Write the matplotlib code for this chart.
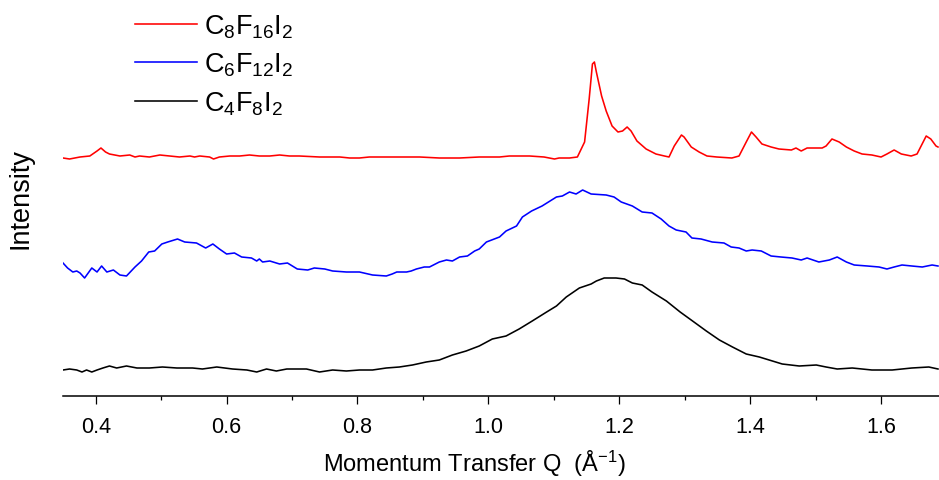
import numpy as np
import matplotlib
matplotlib.use("Agg")
from matplotlib import pyplot as plt
from matplotlib.ticker import MultipleLocator

plt.rcParams["font.family"] = ["Liberation Sans", "DejaVu Sans"]
plt.rcParams["mathtext.fontset"] = "custom"
plt.rcParams["mathtext.rm"] = "Liberation Sans"
plt.rcParams["mathtext.it"] = "Liberation Sans"
plt.rcParams["mathtext.default"] = "regular"

# C8F16I2 (red)
q_c8 = [0.350, 0.360, 0.376, 0.391, 0.402, 0.408, 0.415, 0.421, 0.429, 0.437,
        0.452, 0.460, 0.467, 0.482, 0.498, 0.513, 0.528, 0.544, 0.551, 0.559,
        0.574, 0.580, 0.589, 0.605, 0.620, 0.635, 0.650, 0.666, 0.681, 0.696,
        0.711, 0.742, 0.773, 0.788, 0.803, 0.818, 0.834, 0.864, 0.895, 0.925,
        0.956, 0.986, 1.017, 1.032, 1.047, 1.063, 1.085, 1.101, 1.108, 1.124,
        1.136, 1.147, 1.154, 1.159, 1.162, 1.165, 1.173, 1.180, 1.189, 1.198,
        1.205, 1.212, 1.218, 1.227, 1.241, 1.256, 1.269, 1.276, 1.284, 1.295,
        1.299, 1.310, 1.322, 1.334, 1.349, 1.372, 1.383, 1.394, 1.402, 1.409,
        1.418, 1.432, 1.444, 1.463, 1.470, 1.478, 1.487, 1.510, 1.516, 1.525,
        1.536, 1.547, 1.559, 1.571, 1.586, 1.600, 1.609, 1.620, 1.631, 1.646,
        1.655, 1.669, 1.676, 1.684, 1.687]
i_c8 = [238, 237, 239, 240, 245, 248, 244, 242, 241, 240,
        241, 239, 240, 239, 241, 240, 239, 240, 239, 240,
        239, 237, 239, 240, 240, 241, 240, 240, 241, 240,
        240, 239, 239, 238, 238, 239, 239, 239, 239, 238,
        238, 239, 239, 240, 240, 240, 239, 237, 238, 238,
        239, 254, 297, 332, 334, 324, 300, 285, 270, 264,
        265, 269, 265, 255, 247, 242, 240, 239, 250, 261,
        259, 249, 244, 240, 239, 238, 240, 254, 264, 259,
        252, 249, 247, 246, 248, 245, 248, 248, 250, 257,
        254, 249, 245, 242, 241, 239, 242, 246, 242, 240,
        242, 260, 257, 250, 249]

# C6F12I2 (blue)
q_c6 = [0.350, 0.357, 0.365, 0.371, 0.376, 0.383, 0.394, 0.402, 0.409, 0.417,
        0.427, 0.437, 0.447, 0.460, 0.470, 0.481, 0.490, 0.501, 0.510, 0.525,
        0.536, 0.554, 0.568, 0.579, 0.589, 0.600, 0.612, 0.623, 0.638, 0.646,
        0.650, 0.655, 0.666, 0.681, 0.693, 0.708, 0.724, 0.734, 0.750, 0.762,
        0.783, 0.803, 0.823, 0.844, 0.853, 0.860, 0.875, 0.882, 0.890, 0.902,
        0.910, 0.925, 0.936, 0.945, 0.956, 0.968, 0.979, 0.986,
        0.997, 1.017, 1.027, 1.043, 1.052, 1.066, 1.082, 1.104, 1.113, 1.124,
        1.134, 1.144, 1.157, 1.180, 1.192, 1.203, 1.220, 1.235, 1.250, 1.264,
        1.276, 1.287, 1.302, 1.311, 1.325, 1.342, 1.360, 1.371, 1.383, 1.394,
        1.403, 1.417, 1.432, 1.447, 1.464, 1.478, 1.487, 1.505, 1.521, 1.533,
        1.547, 1.559, 1.579, 1.597, 1.609, 1.620, 1.632, 1.647, 1.663, 1.678,
        1.687]
i_c6 = [133, 128, 124, 125, 123, 118, 128, 124, 130, 124,
        126, 121, 120, 129, 135, 144, 145, 152, 154, 157,
        154, 153, 148, 152, 147, 142, 143, 139, 138, 135,
        137, 134, 135, 132, 133, 127, 126, 128, 127, 125,
        124, 124, 121, 120, 122, 124, 124, 125, 127, 129,
        129, 134, 136, 135, 139, 140, 145, 147,
        154, 159, 165, 170, 179, 185, 190, 199, 200, 204,
        202, 206, 202, 201, 199, 194, 190, 184, 183, 177,
        170, 166, 164, 158, 157, 154, 153, 149, 148, 145,
        146, 145, 140, 139, 138, 136, 138, 134, 136, 139,
        134, 131, 130, 129, 127, 129, 131, 130, 129, 131,
        130]

# C4F8I2 (black)
q_c4 = [0.350, 0.360, 0.371, 0.379, 0.386, 0.394, 0.402, 0.411, 0.421, 0.432,
        0.447, 0.463, 0.482, 0.502, 0.524, 0.548, 0.563, 0.585, 0.609, 0.631,
        0.646, 0.661, 0.676, 0.692, 0.722, 0.742, 0.762, 0.783, 0.803, 0.823,
        0.844, 0.864, 0.884, 0.905, 0.925, 0.945, 0.966, 0.986,
        1.006, 1.027, 1.047, 1.067, 1.089, 1.104, 1.119, 1.139, 1.157, 1.165,
        1.177, 1.195, 1.208, 1.220, 1.235, 1.250, 1.272, 1.293, 1.312, 1.333,
        1.353, 1.373, 1.394, 1.414, 1.434, 1.449, 1.475, 1.501, 1.516, 1.533,
        1.556, 1.586, 1.617, 1.647, 1.673, 1.687]
i_c4 = [26, 27, 26, 24, 26, 24, 26, 28, 30, 28,
        30, 28, 28, 29, 28, 28, 27, 29, 27, 26,
        24, 27, 25, 27, 27, 24, 26, 25, 26, 26,
        28, 29, 31, 34, 36, 41, 45, 50,
        57, 60, 67, 75, 84, 90, 99, 108, 112, 115,
        118, 118, 117, 113, 111, 104, 95, 84, 75, 65,
        56, 49, 42, 39, 35, 32, 30, 31, 29, 27,
        28, 26, 26, 28, 29, 27]

labels = [r"C$_8$F$_{16}$I$_2$", r"C$_6$F$_{12}$I$_2$", r"C$_4$F$_8$I$_2$"]
colors = ["#ff0000", "#0000ff", "#000000"]

fig = plt.figure(figsize=(9.39, 4.81), dpi=100)
ax = fig.add_axes([63 / 939, 1 - 397 / 481, 876 / 939, 397 / 481])

for q, y, lab, c in zip([q_c8, q_c6, q_c4], [i_c8, i_c6, i_c4], labels, colors):
    ax.plot(q, y, color=c, lw=1.15, label=lab)

ax.set_xlim(0.35, 1.6 + 58 / 655)
ax.set_ylim(0, 397)

ax.spines['top'].set_visible(False)
ax.spines['right'].set_visible(False)
ax.spines['left'].set_visible(False)
ax.spines['bottom'].set_linewidth(1.1)
ax.set_yticks([])

ax.xaxis.set_major_locator(MultipleLocator(0.2))
ax.xaxis.set_minor_locator(MultipleLocator(0.1))
ax.tick_params(axis='x', which='major', direction='out', length=5.5, width=0.9, labelsize=15.5, pad=9)
ax.tick_params(axis='x', which='minor', direction='out', length=3, width=0.9)
ax.set_xticklabels([f"{v:.1f}" for v in ax.get_xticks()])

ax.set_xlabel(r"Momentum Transfer Q  (Å$^{-1}$)", fontsize=17)
ax.xaxis.set_label_coords(0.469, -0.13)
ax.set_ylabel("Intensity", fontsize=19.5)
ax.yaxis.set_label_coords(-0.034, 0.5)

ax.legend(loc='upper left', bbox_to_anchor=(121 / 939, 1.0), bbox_transform=fig.transFigure,
          frameon=False, fontsize=19.5, handlelength=2.3, handletextpad=0.25,
          labelspacing=0.4, borderaxespad=0.1)

plt.savefig("out.png", dpi=100)
plt.close()
